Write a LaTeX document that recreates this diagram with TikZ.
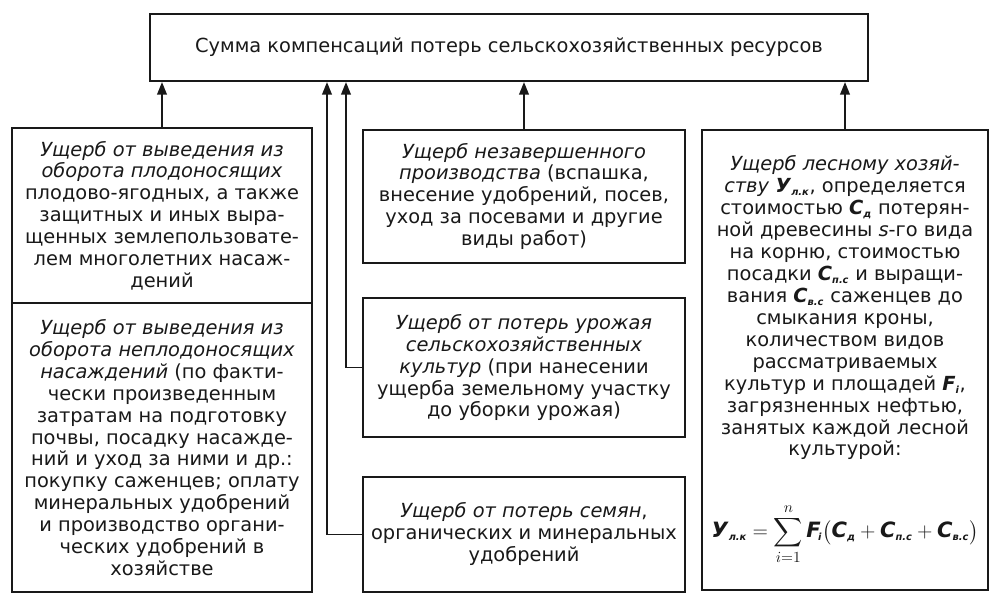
\documentclass[tikz,border=0pt]{standalone}
\usepackage{amsmath}
\usepackage{fontspec}
\setmainfont{DejaVu Sans}
\usepackage{tikz}
\usetikzlibrary{arrows.meta,positioning,calc}
\definecolor{inkBlack}{RGB}{25,25,25}
\newcommand{\bitx}[1]{\textbf{\textit{#1}}}
\newcommand{\sbx}[1]{\text{\bfseries\itshape\scriptsize #1}}

\begin{document}
\begin{tikzpicture}[
        box/.style={rectangle, draw=inkBlack, line width=1.4pt, fill=white,
                    align=center, inner sep=2pt, text=inkBlack,
                    font=\fontsize{13.8}{15.6}\selectfont},
        arr/.style={-{Triangle[length=9pt,width=7pt]}, line width=1.1pt, draw=inkBlack}]
        \useasboundingbox (0,0) rectangle (24.9,-15);
        \node[box, minimum width=17.95cm, minimum height=1.675cm] (sum) at (12.725,-1.19)
              {Сумма компенсаций потерь сельскохозяйственных ресурсов};
        \node[box, minimum width=7.5cm, minimum height=4.375cm] (fruit) at (4.05,-5.39)
              {\textit{Ущерб от выведения из}\\ \textit{оборота плодоносящих}\\
               плодово-ягодных, а также\\ защитных и иных выра-\\
               щенных землепользовате-\\ лем многолетних насаж-\\ дений};
        \node[box, minimum width=7.5cm, minimum height=7.225cm] (nonfruit) at (4.05,-11.19)
              {\textit{Ущерб от выведения из}\\ \textit{оборота неплодоносящих}\\
               \textit{насаждений} (по факти-\\ чески произведенным\\
               затратам на подготовку\\ почвы, посадку насажде-\\
               ний и уход за ними и др.:\\ покупку саженцев; оплату\\
               минеральных удобрений\\ и производство органи-\\
               ческих удобрений в\\ хозяйстве};
        \node[box, minimum width=8.05cm, minimum height=3.325cm] (unfin) at (13.1,-4.91)
              {\textit{Ущерб незавершенного}\\ \textit{производства} (вспашка,\\
               внесение удобрений, посев,\\ уход за посевами и другие\\ виды работ)};
        \node[box, minimum width=8.05cm, minimum height=3.475cm] (crop) at (13.1,-9.19)
              {\textit{Ущерб от потерь урожая}\\ \textit{сельскохозяйственных}\\
               \textit{культур} (при нанесении\\ ущерба земельному участку\\
               до уборки урожая)};
        \node[box, minimum width=8.05cm, minimum height=2.875cm] (seed) at (13.1,-13.36)
              {\textit{Ущерб от потерь семян},\\ органических и минеральных\\ удобрений};
        \node[box, minimum width=7.15cm, minimum height=11.5cm] (forest) at (21.125,-9)
              {\textit{Ущерб лесному хозяй-}\\
               \textit{ству} \bitx{У}$_{\sbx{л.к}}$, определяется\\
               стоимостью \bitx{С}$_{\sbx{д}}$ потерян-\\
               ной древесины \textit{s}-го вида\\ на корню, стоимостью\\
               посадки \bitx{С}$_{\sbx{п.с}}$ и выращи-\\
               вания \bitx{С}$_{\sbx{в.с}}$ саженцев до\\ смыкания кроны,\\
               количеством видов\\ рассматриваемых\\
               культур и площадей \bitx{F}$_{\sbx{i}}$,\\ загрязненных нефтью,\\
               занятых каждой лесной\\ культурой:\\[30pt]
               {\fontsize{15}{18}\selectfont
               $\bitx{У}_{\sbx{л.к}} = \displaystyle\sum_{i=1}^{n}
                \bitx{F}_{\!\sbx{i}}\bigl(\bitx{C}_{\sbx{д}} + \bitx{C}_{\sbx{п.с}}
                + \bitx{C}_{\sbx{в.с}}\bigr)$}};
        \coordinate (jcrop) at (8.65,0);
        \coordinate (jseed) at (8.175,0);
        \draw[arr] (fruit.north) -- (fruit.north |- sum.south);
        \draw[arr] (unfin.north) -- (unfin.north |- sum.south);
        \draw[arr] (forest.north) -- (forest.north |- sum.south);
        \draw[arr] (crop.west) -| (jcrop |- sum.south);
        \draw[arr] (seed.west) -| (jseed |- sum.south);
      \end{tikzpicture}
\end{document}
